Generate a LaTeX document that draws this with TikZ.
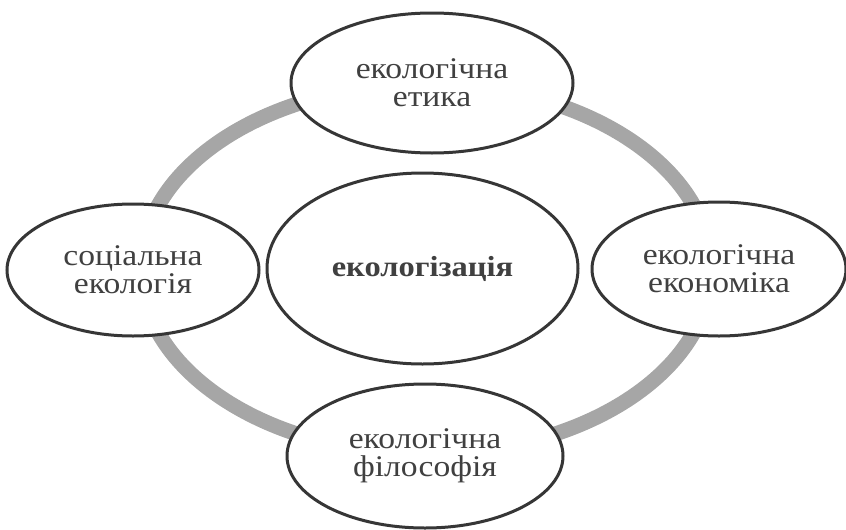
\documentclass[tikz,border=0pt]{standalone}
\usepackage{fontspec}
\setmainfont{Liberation Serif}[FakeStretch=1.12]
\usetikzlibrary{shapes.geometric}
\definecolor{rim}{HTML}{A6A6A6}
\definecolor{edge}{HTML}{363636}
\definecolor{ink}{HTML}{404040}
\tikzset{
  bubble/.style={ellipse, draw=edge, line width=3pt, fill=white, inner sep=0pt,
    text=ink, align=center, font=\fontsize{30}{28}\selectfont},
  ring/.style={rim, line width=15pt}
}

\begin{document}
\begin{tikzpicture}[x=1pt, y=-1pt]
			\useasboundingbox (0,0) rectangle (846,530);

			\coordinate (hub) at (426,269);
			\draw[ring] (hub) ellipse [x radius=285, y radius=185];

			\node[bubble, minimum width=311pt, minimum height=191pt,
			  font=\fontsize{29}{28}\selectfont\bfseries] (eco) at (422.5,268.5) {екологізація};

			\node[bubble, minimum width=282pt, minimum height=140pt] (ethics) at (432,83) {екологічна\\етика};

			\node[bubble, minimum width=252pt, minimum height=132pt] (social) at (133,270) {соціальна\\екологія};

			\node[bubble, minimum width=254pt, minimum height=134pt] (economy) at (719,269) {екологічна\\економіка};

			\node[bubble, minimum width=276pt, minimum height=144pt] (philo) at (425,456) {екологічна\\філософія};

		\end{tikzpicture}
\end{document}
